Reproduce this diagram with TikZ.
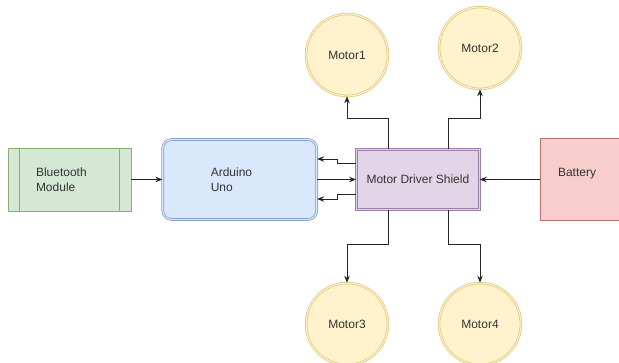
\documentclass[tikz,border=0pt]{standalone}
\usepackage{fontspec}
\setmainfont{Liberation Sans}
\usetikzlibrary{positioning,arrows.meta}
\definecolor{btfill}{HTML}{D5E8D4}\definecolor{btline}{HTML}{8DB07A}
\definecolor{arfill}{HTML}{DAE8FC}\definecolor{arline}{HTML}{7C98C2}
\definecolor{mdfill}{HTML}{E1D5E7}\definecolor{mdline}{HTML}{9A80A8}
\definecolor{bafill}{HTML}{F8CECC}\definecolor{baline}{HTML}{B8706C}
\definecolor{mofill}{HTML}{FFF2CC}\definecolor{moline}{HTML}{D9C070}
\tikzset{module/.style={rectangle,draw=btline,fill=btfill,line width=0.8pt,minimum height=63pt,
		text width=67pt,inner xsep=28pt,align=left},
	 board/.style={rectangle,rounded corners=9pt,draw=arline,double=arfill,double distance=1.2pt,
		line width=0.7pt,fill=arfill,minimum height=80pt,text width=58pt,inner xsep=48pt,align=left},
	 shield/.style={rectangle,draw=mdline,double=mdfill,double distance=1pt,line width=0.6pt,
		fill=mdfill,minimum width=123pt,minimum height=60pt},
	 power/.style={rectangle,draw=baline,fill=bafill,line width=0.7pt,minimum height=82pt,
		text width=72pt,text depth=14pt,inner xsep=18pt,align=left},
	 motor/.style={circle,draw=moline,double=mofill,double distance=1.2pt,line width=0.6pt,
		fill=mofill,minimum size=82pt,inner sep=0pt},
	 wire/.style={-{Stealth[length=7pt,width=5.5pt]},line width=0.8pt,black!85},
	 node distance = 31pt
	 }

\begin{document}
\begin{tikzpicture}[x=1pt,y=-1pt,font=\fontsize{12}{14.5}\selectfont,text=black!80]
	\useasboundingbox (0,0) rectangle (619,363);
	\node[module] (bt) at (69.5,179.5) {Bluetooth\\Module};
	\draw[btline,line width=0.8pt] ([xshift=12pt]bt.north west) -- ([xshift=12pt]bt.south west);
	\draw[btline,line width=0.8pt] ([xshift=-12pt]bt.north east) -- ([xshift=-12pt]bt.south east);
	\node[board] (ard) [right=of bt] {Arduino\\Uno};
	\node[shield] (mds) [right=39pt of ard] {Motor Driver Shield};
	\node[power] (bat) [right=60pt of mds] {Battery};
	\node[motor] (m1) at (347,55) {Motor1};
	\node[motor] (m2) at (480,48) {Motor2};
	\node[motor] (m3) at (347,324) {Motor3};
	\node[motor] (m4) at (480,324) {Motor4};
	% links
	\draw[wire] (bt) -- (ard);
	\draw[wire] (ard) -- (mds);
	\draw[wire] (bat) -- (mds);
	\draw[wire] ([yshift=16pt]mds.west) -- ++(-19,0) |- ([yshift=20.5pt]ard.east);
	\draw[wire] ([yshift=-15pt]mds.west) -- ++(-19,0) |- ([yshift=-19.5pt]ard.east);
	\draw[wire] ([xshift=-30pt]mds.north) -- ++(0,-31) -| (m1.south);
	\draw[wire] ([xshift=30pt]mds.north) -- ++(0,-31) -| (m2.south);
	\draw[wire] ([xshift=-30pt]mds.south) -- ++(0,35) -| (m3.north);
	\draw[wire] ([xshift=30pt]mds.south) -- ++(0,35) -| (m4.north);
\end{tikzpicture}
\end{document}
